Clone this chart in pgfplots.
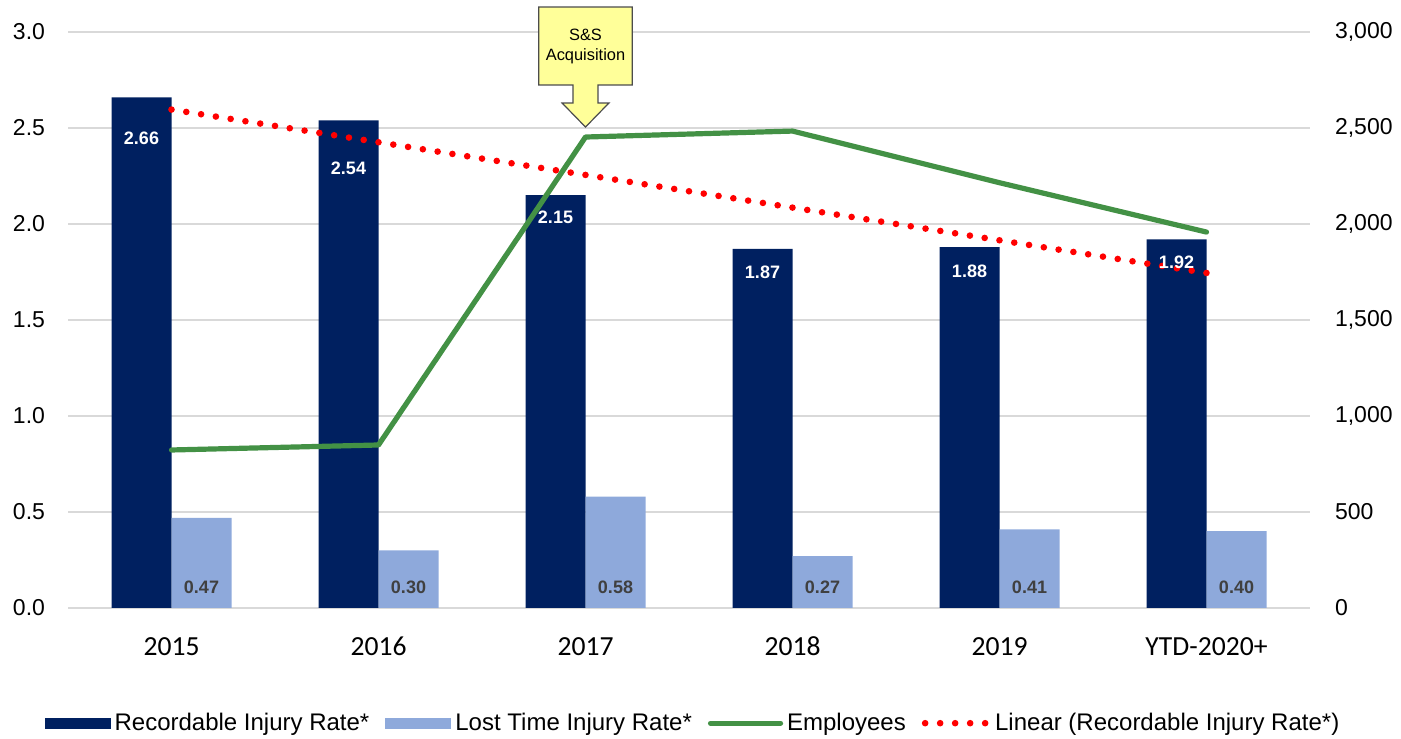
\documentclass[border=0pt]{standalone}
\usepackage{fontspec}
\setmainfont{Liberation Sans}
\newfontfamily\carlito{Carlito}
\usepackage{pgfplots}
\usepackage{pgfplotstable}
\pgfplotsset{compat=1.18}
\definecolor{navy}{RGB}{0,32,96}
\definecolor{lightb}{RGB}{142,169,219}
\definecolor{empgreen}{RGB}{67,145,69}
\definecolor{gridc}{RGB}{217,217,217}
\definecolor{calloutc}{RGB}{255,255,153}
\definecolor{labgray}{RGB}{64,64,64}
\pgfplotstableread{
x rec lost lab
0 2.66 0.47 20.5
1 2.54 0.30 24
2 2.15 0.58 11
3 1.87 0.27 11.5
4 1.88 0.41 12
5 1.92 0.40 11.5
}\rates
\pgfplotstableread{
x emp
0 823
1 849
2 2453
3 2484
4 2215
5 1958
}\emps
\begin{document}
\begin{tikzpicture}
\useasboundingbox (0,0) rectangle (700.5bp,369.5bp);
\begin{axis}[
  at={(34bp,65.5bp)}, anchor=south west,
  scale only axis, width=621bp, height=288bp,
  xmin=-0.5, xmax=5.5, ymin=0, ymax=3,
  xtick={0,1,2,3,4,5},
  xticklabels={2015,2016,2017,2018,2019,YTD-2020+},
  ytick={0,0.5,...,3},
  /pgf/number format/assume math mode=true,
  yticklabel={\pgfmathprintnumber[fixed,fixed zerofill,precision=1]{\tick}},
  ymajorgrids, major grid style={gridc, line width=0.75bp},
  axis line style={draw=none}, major tick length=0,
  yticklabel style={font=\fontsize{11.5bp}{13bp}\selectfont, xshift=-8bp},
  xticklabel style={font=\carlito\fontsize{13.8bp}{16bp}\selectfont,
    anchor=north, text height=10bp, text depth=3bp, yshift=-10bp},
  legend columns=-1,
  legend style={at={(0.504,-0.2)}, anchor=center, draw=none, fill=none,
    font=\fontsize{12bp}{14bp}\selectfont,
    /tikz/every even column/.append style={column sep=6bp},
    nodes={inner xsep=2bp}},
]
\addplot[ybar, bar width=30bp, bar shift=-15bp, fill=navy, draw=none,
  legend image code/.code={\fill[navy] (0bp,-2.75bp) rectangle (33bp,2.75bp);},
  point meta=y,
  visualization depends on={\thisrow{lab} \as \labshift},
  nodes near coords={\pgfmathprintnumber[fixed,fixed zerofill,precision=2]{\pgfplotspointmeta}},
  every node near coord/.append style={anchor=center, text=white,
    font=\bfseries\fontsize{9bp}{11bp}\selectfont, xshift=-15bp, yshift={-1bp*\labshift}}]
  table[x=x,y=rec]{\rates};
\addlegendentry{Recordable Injury Rate*}
\addplot[ybar, bar width=30bp, bar shift=15bp, fill=lightb, draw=none,
  legend image code/.code={\fill[lightb] (0bp,-2.75bp) rectangle (33bp,2.75bp);},
  point meta=y,
  visualization depends on={\thisrow{lost} \as \lostv},
  nodes near coords={\pgfmathprintnumber[fixed,fixed zerofill,precision=2]{\pgfplotspointmeta}},
  every node near coord/.append style={anchor=center, text=labgray,
    font=\bfseries\fontsize{9bp}{11bp}\selectfont, xshift=15bp, yshift={10.5bp-96bp*\lostv}}]
  table[x=x,y=lost]{\rates};
\addlegendentry{Lost Time Injury Rate*}
\addlegendimage{legend image code/.code={\draw[empgreen, line width=2.6bp, line cap=round] (0bp,0bp) -- (35bp,0bp);}}
\addlegendentry{Employees}
\addplot[red, line width=3.3bp, dash pattern=on 0pt off 7.484bp, line cap=round,
  legend image code/.code={\draw[red, line width=3.3bp, dash pattern=on 0pt off 7.5bp, line cap=round] (1.65bp,0bp) -- (33bp,0bp);}]
  coordinates {(0,2.596) (5,1.745)};
\addlegendentry{Linear (Recordable Injury Rate*)}
\end{axis}
\begin{axis}[
  at={(34bp,65.5bp)}, anchor=south west,
  scale only axis, width=621bp, height=288bp,
  xmin=-0.5, xmax=5.5, ymin=0, ymax=3000,
  hide x axis, axis y line*=right,
  ytick={0,500,...,3000},
  /pgf/number format/assume math mode=true,
  yticklabel={\pgfmathprintnumber[fixed,precision=0,1000 sep={,}]{\tick}},
  axis line style={draw=none}, major tick length=0,
  yticklabel style={font=\fontsize{11.5bp}{13bp}\selectfont, xshift=9bp},
  clip=false,
]
\addplot[empgreen, line width=2.6bp, line cap=round, line join=round]
  table[x=x,y=emp]{\emps};
\draw[fill=calloutc, draw=black!70, line width=0.6bp]
  (axis cs:1.774,3130) -- (axis cs:2.226,3130) -- (axis cs:2.226,2724) --
  (axis cs:2.06,2724) -- (axis cs:2.06,2630) -- (axis cs:2.113,2630) --
  (axis cs:2,2505) -- (axis cs:1.887,2630) -- (axis cs:1.94,2630) --
  (axis cs:1.94,2724) -- (axis cs:1.774,2724) -- cycle;
\node[align=center, font=\fontsize{8.2bp}{10bp}\selectfont, inner sep=0pt]
  at (axis cs:2,2927) {S\&S\\Acquisition};
\end{axis}
\end{tikzpicture}
\end{document}
